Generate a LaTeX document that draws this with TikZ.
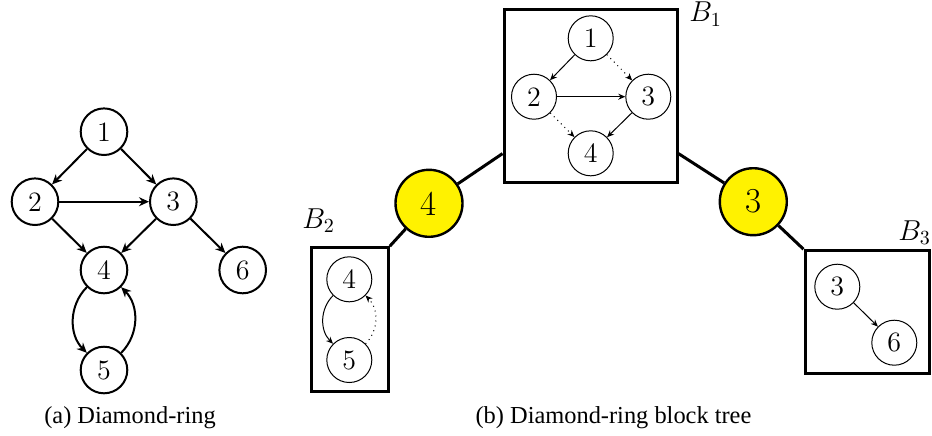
\documentclass[tikz,border=0pt]{standalone}
\usepackage{fontspec}
\usepackage{xcolor}
\usepackage{tikz}
\usetikzlibrary{arrows.meta, positioning, calc}
\newfontfamily\capfont{Liberation Serif}

\begin{document}
\begin{tikzpicture}[x=0.5pt, y=-0.5pt]
    % Styles
    \tikzstyle{vert} = [circle, draw, line width=1pt, minimum size=23.3pt, inner sep=0pt, font=\fontsize{14}{16}\selectfont]
    \tikzstyle{small} = [circle, draw, line width=0.5pt, minimum size=22.5pt, inner sep=0pt, font=\fontsize{14}{16}\selectfont]
    \tikzstyle{cut} = [circle, draw, line width=1.2pt, fill=yellow, minimum size=33.5pt, inner sep=0pt, font=\fontsize{17.5}{20}\selectfont]
    \tikzstyle{block} = [rectangle, draw, line width=1.5pt, inner sep=0pt]
    \tikzstyle{blabel} = [anchor=base west, inner sep=0pt, font=\fontsize{14.5}{17}\selectfont]
    \tikzstyle{caption} = [anchor=base, inner sep=0pt, font=\capfont\fontsize{12.2}{14}\selectfont]
    \tikzstyle{line} = [draw, line width=1pt, -{Stealth[length=5pt, width=4.5pt]}]
    \tikzstyle{thinline} = [draw, line width=0.5pt, -{Stealth[length=3.5pt, width=3pt]}]
    \tikzstyle{tree} = [draw, line width=1.5pt]

    \useasboundingbox (0,0) rectangle (932,435);

    % Nodes: diamond-ring
    \node [vert] (d1) at (104,131.7) {1};
    \node [vert] (d2) at (35,201.7) {2};
    \node [vert] (d3) at (173.3,201.7) {3};
    \node [vert] (d4) at (104,270) {4};
    \node [vert] (d6) at (242.7,270) {6};
    \node [vert] (d5) at (104,370) {5};

    % Nodes: block tree
    \node [block, minimum width=86.5pt, minimum height=86.7pt] (B1) at (590.5,96) {};
    \node [block, minimum width=38.3pt, minimum height=72pt] (B2) at (350,319.7) {};
    \node [block, minimum width=62.2pt, minimum height=61.3pt] (B3) at (867.2,312) {};
    \node [blabel] (lb1) at (689,21.7) {$B_1$};
    \node [blabel] (lb2) at (302,228.3) {$B_2$};
    \node [blabel] (lb3) at (898,240) {$B_3$};

    \node [small] (t11) at (590.7,38.3) {1};
    \node [small] (t12) at (534,96.7) {2};
    \node [small] (t13) at (648.3,96.7) {3};
    \node [small] (t14) at (590.7,153.3) {4};
    \node [small] (t24) at (349.3,279.3) {4};
    \node [small] (t25) at (349.3,360) {5};
    \node [small] (t33) at (837.3,286.7) {3};
    \node [small] (t36) at (894.3,342.7) {6};

    \node [cut] (c4) at (429,203.3) {4};
    \node [cut] (c3) at (753.3,201.7) {3};

    % Captions
    \node [caption] (capa) at (130,423.5) {(a) Diamond-ring};
    \node [caption] (capb) at (613.5,423.5) {(b) Diamond-ring block tree};

    % Paths: diamond-ring
    \path [line] (d1) -- (d2);
    \path [line] (d1) -- (d3);
    \path [line] (d2) -- (d3);
    \path [line] (d2) -- (d4);
    \path [line] (d3) -- (d4);
    \path [line] (d3) -- (d6);
    \path [line] (d4) to[bend right=45] (d5);
    \path [line] (d5) to[bend right=45] (d4);

    % Paths: blocks
    \path [thinline] (t11) -- (t12);
    \path [thinline, dotted] (t11) -- (t13);
    \path [thinline] (t12) -- (t13);
    \path [thinline, dotted] (t12) -- (t14);
    \path [thinline] (t13) -- (t14);
    \path [thinline] (t24) to[bend right=45] (t25);
    \path [thinline, dotted] (t25) to[bend right=45] (t24);
    \path [thinline] (t33) -- (t36);

    % Paths: tree
    \path [tree] (c4) -- ([yshift=15.3pt]B1.south west);
    \path [tree] (c3) -- ([yshift=15.3pt]B1.south east);
    \path [tree] (c4) -- (B2.north east);
    \path [tree] (c3) -- (B3.north west);
\end{tikzpicture}
\end{document}
